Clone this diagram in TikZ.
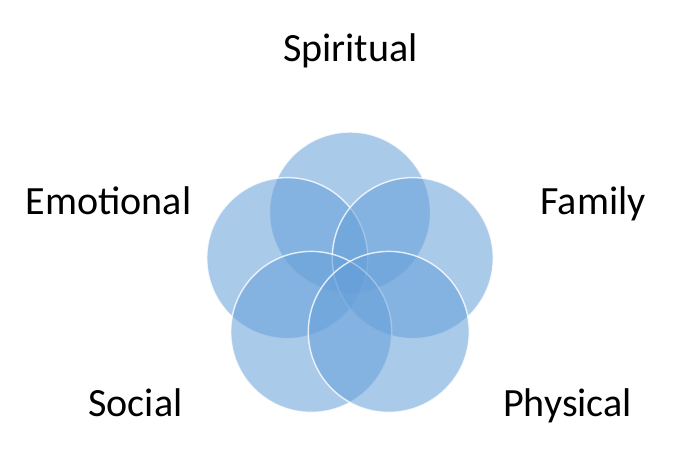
\documentclass[tikz,border=0pt]{standalone}
\usepackage{fontspec}
\setmainfont{Carlito}
\definecolor{azul}{RGB}{101,159,217}

\begin{document}
\begin{tikzpicture}[
        font=\fontsize{22.8}{27}\selectfont,
        circulo/.style={circle, fill=azul, fill opacity=0.55, draw=white, draw opacity=0.8, line width=0.8pt, minimum size=3.22cm, inner sep=0pt},
        rotulo/.style={anchor=base, inner sep=0pt}]
        \useasboundingbox (0,0) rectangle (14,9.32);
        \coordinate (centro) at (7,3.75);
        \foreach \ang/\nome in {
            90/Spiritual,
            162/Emotional,
            18/Family,
            234/Social,
            306/Physical}{
            \node[circulo] (c\nome) at ([shift={(\ang:1.32)}]centro) {};
        }
        \foreach \x/\y/\nome in {
            7.01/8.08/Spiritual,
            2.17/5.02/Emotional,
            11.86/5.02/Family,
            2.71/1.0/Social,
            11.35/1.0/Physical}{
            \node[rotulo] (r\nome) at (\x,\y) {\nome};
        }
    \end{tikzpicture}
\end{document}
